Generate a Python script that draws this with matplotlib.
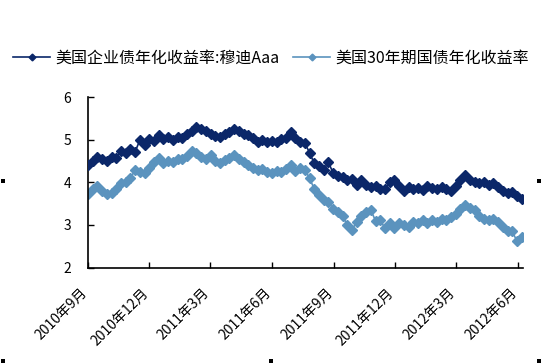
import matplotlib
matplotlib.use("Agg")
import matplotlib.pyplot as plt
from matplotlib.patches import Rectangle
import numpy as np
import pandas as pd

plt.rcParams['font.family'] = ['Noto Sans CJK SC', 'DejaVu Sans']

# weekly observations starting 2010-09-01
start_date = "2010-09-01"
corp_aaa = [4.42, 4.50, 4.60, 4.55, 4.50, 4.60, 4.58, 4.75, 4.70, 4.78,
            4.72, 5.00, 4.88, 5.02, 4.98, 5.12, 5.02, 5.08, 5.00, 5.08,
            5.05, 5.15, 5.20, 5.30, 5.25, 5.22, 5.15, 5.10, 5.08, 5.15,
            5.18, 5.25, 5.22, 5.15, 5.12, 5.05, 4.95, 5.00, 4.95, 4.98,
            4.95, 5.02, 5.05, 5.18, 5.05, 4.95, 4.93, 4.70, 4.45, 4.38,
            4.30, 4.48, 4.22, 4.15, 4.12, 4.05, 4.08, 3.95, 4.05, 3.95,
            3.90, 3.92, 3.85, 3.85, 4.00, 4.05, 3.92, 3.80, 3.90, 3.85,
            3.88, 3.82, 3.92, 3.88, 3.85, 3.90, 3.85, 3.80, 3.92, 4.05,
            4.18, 4.05, 4.00, 3.98, 4.02, 3.95, 3.98, 3.90, 3.80, 3.75,
            3.78, 3.68, 3.62]
treasury_30y = [3.72, 3.85, 3.92, 3.80, 3.72, 3.75, 3.85, 3.98, 4.00, 4.10,
                4.30, 4.25, 4.22, 4.35, 4.48, 4.58, 4.45, 4.50, 4.48, 4.55,
                4.55, 4.62, 4.75, 4.70, 4.60, 4.55, 4.65, 4.50, 4.45, 4.52,
                4.58, 4.65, 4.55, 4.48, 4.42, 4.35, 4.30, 4.32, 4.25, 4.22,
                4.28, 4.25, 4.32, 4.40, 4.28, 4.35, 4.30, 4.10, 3.85, 3.70,
                3.58, 3.55, 3.38, 3.30, 3.22, 3.00, 2.88, 3.08, 3.22, 3.30,
                3.35, 3.10, 3.12, 2.92, 3.05, 2.92, 3.05, 3.00, 2.95, 3.08,
                3.05, 3.12, 3.05, 3.12, 3.08, 3.15, 3.12, 3.18, 3.25, 3.38,
                3.48, 3.40, 3.35, 3.20, 3.15, 3.12, 3.15, 3.08, 2.95, 2.85,
                2.85, 2.62, 2.72]
series_names = ["美国企业债年化收益率:穆迪Aaa", "美国30年期国债年化收益率"]
tick_dates = ["2010-09-01", "2010-12-01", "2011-03-01", "2011-06-01",
              "2011-09-01", "2011-12-01", "2012-03-01", "2012-06-01"]
tick_labels = ["2010年9月", "2010年12月", "2011年3月", "2011年6月",
               "2011年9月", "2011年12月", "2012年3月", "2012年6月"]
y_ticks = [2, 3, 4, 5, 6]

dates = pd.date_range(start_date, periods=len(corp_aaa), freq="7D")

W, H = 542, 363
fig = plt.figure(figsize=(W / 100, H / 100), dpi=100)
ax = fig.add_axes([88 / W, 1 - 267.5 / H, (523 - 88) / W, (267.5 - 97.5) / H])

navy = "#0b2769"
light = "#5b93be"
l1, = ax.plot(dates, corp_aaa, color=navy, lw=1.2, marker="D", ms=5.3,
              mec=navy, mfc=navy, label=series_names[0], zorder=3)
l2, = ax.plot(dates, treasury_30y, color=light, lw=1.2, marker="D", ms=5.3,
              mec=light, mfc=light, label=series_names[1], zorder=2)

ax.set_ylim(2, 6)
ax.set_yticks(y_ticks)
ax.set_xlim(pd.Timestamp("2010-09-01"), pd.Timestamp("2012-06-08"))
tick_pos = pd.to_datetime(tick_dates)
ax.set_xticks(tick_pos)
ax.set_xticklabels([""] * len(tick_pos))
for d, lab in zip(tick_pos, tick_labels):
    ax.annotate(lab, xy=(d, 0), xycoords=("data", "axes fraction"),
                xytext=(-6, -13), textcoords="offset points",
                rotation=45, rotation_mode="anchor", ha="right", va="top",
                fontsize=10, annotation_clip=False)
ax.tick_params(axis="x", direction="in", length=4, width=1, pad=6)
ax.tick_params(axis="y", direction="in", length=4, width=1, labelsize=10, pad=12)
for s in ["top", "right"]:
    ax.spines[s].set_visible(False)
for s in ["left", "bottom"]:
    ax.spines[s].set_linewidth(1.2)
    ax.spines[s].set_color("black")

fig.legend(handles=[l1, l2], loc="center", bbox_to_anchor=(0.5, 1 - 58 / H),
           ncol=2, frameon=False, fontsize=11.5, handlelength=2.3,
           handletextpad=0.3, columnspacing=0.9, markerscale=0.65)

# chart selection handles
for (px, py) in [(3, 181), (539, 181), (3, 361), (271, 361), (539, 361)]:
    fig.add_artist(Rectangle(((px - 2) / W, 1 - (py + 2) / H), 4 / W, 4 / H,
                             transform=fig.transFigure, color="black", lw=0))

fig.savefig("out.png", dpi=100)
